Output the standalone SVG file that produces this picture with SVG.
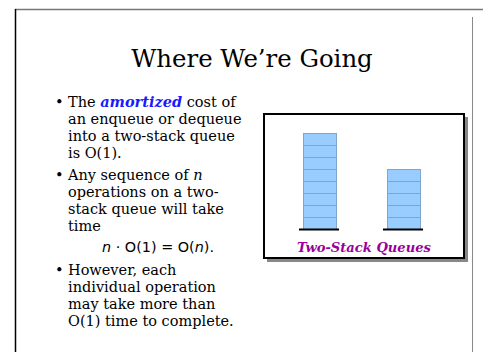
<svg xmlns="http://www.w3.org/2000/svg" width="483" height="352" viewBox="0 0 483 352">
  <style>
    .body { font-family: "DejaVu Serif", serif; font-size: 14.5px; fill: #000; }
    .title { font-family: "DejaVu Serif", serif; font-size: 24.4px; fill: #000; }
    .math { font-family: "DejaVu Sans", sans-serif; font-size: 14.4px; fill: #000; }
    .em { font-weight: bold; font-style: italic; fill: #1a1aff; }
    .cell { fill: #99ccff; stroke: #7fa6cc; stroke-width: 1; }
    .base { stroke: #000; stroke-width: 2; }
    .caption { font-family: "DejaVu Serif", serif; font-size: 13.1px; font-weight: bold; font-style: italic; fill: #990099; }
  </style>

  <rect x="0" y="0" width="483" height="352" fill="#fff"/>

  <!-- slide frame -->
  <line x1="15" y1="9.5" x2="483" y2="9.5" stroke="#777" stroke-width="1.5"/>
  <line x1="15.5" y1="9" x2="15.5" y2="352" stroke="#000" stroke-width="1.5"/>
  <line x1="472.5" y1="17" x2="472.5" y2="352" stroke="#888" stroke-width="1"/>

  <text class="title" x="252" y="67" text-anchor="middle">Where We’re Going</text>

  <g id="bullets">
    <text class="body" x="55" y="107">•</text>
    <text class="body" x="68" y="107">The <tspan class="em">amortized</tspan> cost of</text>
    <text class="body" x="68" y="124">an enqueue or dequeue</text>
    <text class="body" x="68" y="141">into a two-stack queue</text>
    <text class="body" x="68" y="158">is O(1).</text>

    <text class="body" x="55" y="180">•</text>
    <text class="body" x="68" y="180">Any sequence of <tspan font-style="italic">n</tspan></text>
    <text class="body" x="68" y="197">operations on a two-</text>
    <text class="body" x="68" y="214">stack queue will take</text>
    <text class="body" x="68" y="231">time</text>
    <text class="math" x="102" y="252"><tspan font-style="italic">n</tspan> · O(1) = O(<tspan font-style="italic">n</tspan>).</text>

    <text class="body" x="55" y="275">•</text>
    <text class="body" x="68" y="275">However, each</text>
    <text class="body" x="68" y="292">individual operation</text>
    <text class="body" x="68" y="309">may take more than</text>
    <text class="body" x="68" y="326">O(1) time to complete.</text>
  </g>

  <g id="figure">
    <rect x="267" y="117" width="201" height="145" fill="#888"/>
    <rect x="264" y="114" width="200" height="144" fill="#fff" stroke="#000" stroke-width="2"/>

    <g id="stack-in">
      <rect class="cell" x="303.5" y="133.5" width="33" height="12"/>
      <rect class="cell" x="303.5" y="145.5" width="33" height="12"/>
      <rect class="cell" x="303.5" y="157.5" width="33" height="12"/>
      <rect class="cell" x="303.5" y="169.5" width="33" height="12"/>
      <rect class="cell" x="303.5" y="181.5" width="33" height="12"/>
      <rect class="cell" x="303.5" y="193.5" width="33" height="12"/>
      <rect class="cell" x="303.5" y="205.5" width="33" height="12"/>
      <rect class="cell" x="303.5" y="217.5" width="33" height="12"/>
      <line class="base" x1="299" y1="229.5" x2="339" y2="229.5"/>
    </g>

    <g id="stack-out">
      <rect class="cell" x="387.5" y="169.5" width="33" height="12"/>
      <rect class="cell" x="387.5" y="181.5" width="33" height="12"/>
      <rect class="cell" x="387.5" y="193.5" width="33" height="12"/>
      <rect class="cell" x="387.5" y="205.5" width="33" height="12"/>
      <rect class="cell" x="387.5" y="217.5" width="33" height="12"/>
      <line class="base" x1="383" y1="229.5" x2="423" y2="229.5"/>
    </g>

    <text class="caption" x="364" y="252" text-anchor="middle">Two-Stack Queues</text>
  </g>
</svg>
